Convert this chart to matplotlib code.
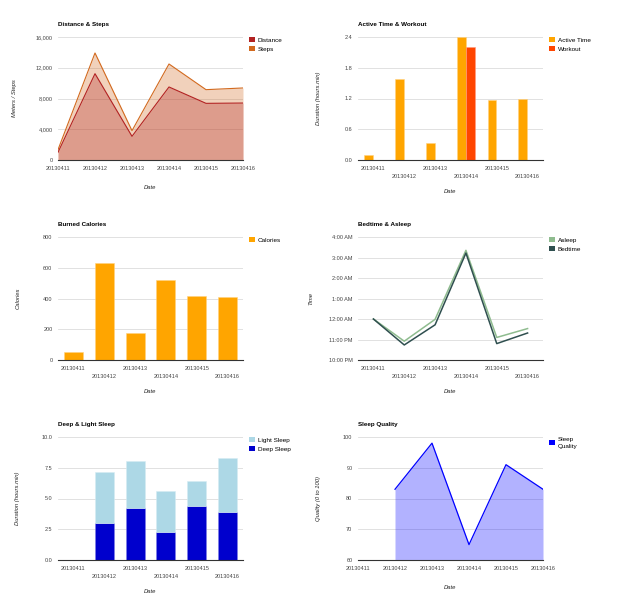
import numpy as np
import matplotlib
matplotlib.use('Agg')
import matplotlib.pyplot as plt
from matplotlib.patches import Patch

plt.rcParams['font.family'] = ['Liberation Sans', 'DejaVu Sans']

dates = ['20130411', '20130412', '20130413', '20130414', '20130415', '20130416']

distance = [1000, 11230, 3080, 9500, 7370, 7410]
steps = [1340, 13920, 3815, 12490, 9150, 9370]

active_time = [0.10, 1.59, 0.34, 2.40, 1.18, 1.20]
workout = [0, 0, 0, 2.21, 0, 0]

calories = [54, 631, 176, 520, 418, 410]

asleep = ['00:00', '22:55', '23:59', '03:21', '23:06', '23:32']
bedtime = ['00:00', '22:44', '23:43', '03:13', '22:48', '23:19']
time_ticks = ['10:00 PM', '11:00 PM', '12:00 AM', '1:00 AM', '2:00 AM', '3:00 AM', '4:00 AM']

deep_sleep = [0, 3.00, 4.23, 2.30, 4.36, 3.88]
light_sleep = [0, 4.18, 3.79, 3.31, 2.09, 4.39]

sleep_quality = [None, 83, 98, 65, 91, 83]

TICK = 4.0
LEG = 4.6
TITLE = 4.5
LAB = 4.2


def clock_to_hours(s):
    h, m = s.split(':')
    v = int(h) + int(m) / 60
    if v < 12:
        v += 24
    return v


def style(ax, title, ylabel, ylab_x, xlab_y, stagger):
    for s in ['top', 'right', 'left']:
        ax.spines[s].set_visible(False)
    ax.spines['bottom'].set_color('#333333')
    ax.spines['bottom'].set_linewidth(0.8)
    ax.grid(axis='y', color='#dcdcdc', linewidth=0.6)
    ax.set_axisbelow(True)
    ax.tick_params(length=0, labelsize=TICK, labelcolor='#444444', pad=4)
    ax.set_xticks(range(len(dates)))
    if stagger:
        ax.set_xticklabels([d if i % 2 == 0 else '\n' + d for i, d in enumerate(dates)],
                           linespacing=1.8)
    else:
        ax.set_xticklabels(dates)
    ax.set_title(title, loc='left', fontsize=TITLE, fontweight='bold', pad=8)
    ax.set_ylabel(ylabel, fontsize=LAB, style='italic', color='#222222')
    ax.yaxis.set_label_coords(ylab_x, 0.5)
    ax.set_xlabel('Date', fontsize=LAB, style='italic', color='#222222')
    ax.xaxis.set_label_coords(0.5, xlab_y)


def legend(ax, labels, colors):
    handles = [Patch(facecolor=c, edgecolor='none') for c in colors]
    ax.legend(handles, labels, loc='upper left', bbox_to_anchor=(1.035, 1.0),
              frameon=False, fontsize=LEG, handlelength=0.8, handleheight=0.8,
              handletextpad=0.5, borderaxespad=0, borderpad=0, labelspacing=0.6)


fig = plt.figure(figsize=(6.2, 5.98), dpi=100)
W, H = 620, 598


def add_axes(x0, y_top, y_bot):
    return fig.add_axes([x0 / W, 1 - y_bot / H, 185 / W, (y_bot - y_top) / H])


x = np.arange(len(dates))

# Distance & Steps
ax1 = add_axes(58, 37, 160)
ax1.fill_between(x, steps, color='#d2691e', alpha=0.3, linewidth=0)
ax1.fill_between(x, distance, color='#b22222', alpha=0.3, linewidth=0)
ax1.plot(x, steps, color='#d2691e', linewidth=0.8)
ax1.plot(x, distance, color='#b22222', linewidth=0.8)
ax1.set_xlim(0, 5)
ax1.set_ylim(0, 16000)
ax1.set_yticks([0, 4000, 8000, 12000, 16000])
ax1.set_yticklabels(['0', '4,000', '8,000', '12,000', '16,000'])
style(ax1, 'Distance & Steps', 'Meters / Steps', -0.22, -0.2, False)
legend(ax1, ['Distance', 'Steps'], ['#b22222', '#d2691e'])

# Active Time & Workout
ax2 = add_axes(358, 37, 160)
ax2.bar(x - 0.155, active_time, width=0.29, color='#ffa500', edgecolor='#ffd27f', linewidth=0.4)
ax2.bar(x + 0.145, workout, width=0.29, color='#ff4500', edgecolor='#ff9a7f', linewidth=0.4)
ax2.set_xlim(-0.5, 5.5)
ax2.set_ylim(0, 2.4)
ax2.set_yticks([0, 0.6, 1.2, 1.8, 2.4])
ax2.set_yticklabels(['0.0', '0.6', '1.2', '1.8', '2.4'])
style(ax2, 'Active Time & Workout', 'Duration (hours.min)', -0.2, -0.236, True)
legend(ax2, ['Active Time', 'Workout'], ['#ffa500', '#ff4500'])

# Burned Calories
ax3 = add_axes(58, 237, 360)
ax3.bar(x, calories, width=0.62, color='#ffa500', edgecolor='#ffd27f', linewidth=0.4)
ax3.set_xlim(-0.5, 5.5)
ax3.set_ylim(0, 800)
ax3.set_yticks([0, 200, 400, 600, 800])
style(ax3, 'Burned Calories', 'Calories', -0.2, -0.236, True)
legend(ax3, ['Calories'], ['#ffa500'])

# Bedtime & Asleep
ax4 = add_axes(358, 237, 360)
ax4.plot(x, [clock_to_hours(t) for t in asleep], color='#8fbc8f', linewidth=1.1)
ax4.plot(x, [clock_to_hours(t) for t in bedtime], color='#2f4f4f', linewidth=1.1)
ax4.set_xlim(-0.5, 5.5)
ax4.set_ylim(22, 28)
ax4.set_yticks(range(22, 29))
ax4.set_yticklabels(time_ticks)
style(ax4, 'Bedtime & Asleep', 'Time', -0.24, -0.236, True)
legend(ax4, ['Asleep', 'Bedtime'], ['#8fbc8f', '#2f4f4f'])

# Deep & Light Sleep
ax5 = add_axes(58, 437, 560)
ax5.bar(x, deep_sleep, width=0.62, color='#0000cd', edgecolor='#7f7fe6', linewidth=0.4)
ax5.bar(x, light_sleep, width=0.62, bottom=deep_sleep, color='#add8e6', edgecolor='#d6ecf3', linewidth=0.4)
ax5.set_xlim(-0.5, 5.5)
ax5.set_ylim(0, 10)
ax5.set_yticks([0, 2.5, 5, 7.5, 10])
ax5.set_yticklabels(['0.0', '2.5', '5.0', '7.5', '10.0'])
style(ax5, 'Deep & Light Sleep', 'Duration (hours.min)', -0.205, -0.236, True)
legend(ax5, ['Light Sleep', 'Deep Sleep'], ['#add8e6', '#0000cd'])

# Sleep Quality
ax6 = add_axes(358, 437, 560)
q = np.array([np.nan if v is None else v for v in sleep_quality], dtype=float)
ax6.fill_between(x, q, 0, color='#0000ff', alpha=0.3, linewidth=0)
ax6.plot(x, q, color='#0000ff', linewidth=0.9)
ax6.set_xlim(0, 5)
ax6.set_ylim(60, 100)
ax6.set_yticks([60, 70, 80, 90, 100])
style(ax6, 'Sleep Quality', 'Quality (0 to 100)', -0.2, -0.2, False)
legend(ax6, ['Sleep\nQuality'], ['#0000ff'])
leg6 = ax6.get_legend()
leg6.get_texts()[0].set_linespacing(1.5)

fig.savefig('out.png', dpi=100)
